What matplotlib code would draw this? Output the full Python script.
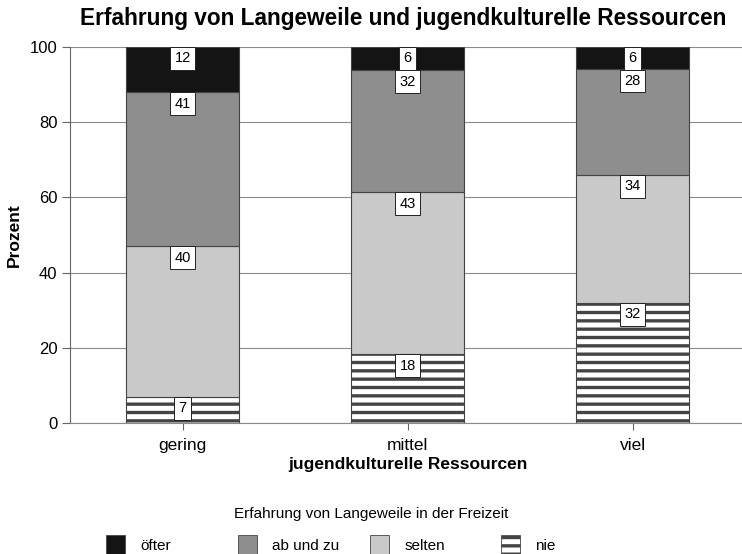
import numpy as np
import matplotlib
matplotlib.use("Agg")
import matplotlib.pyplot as plt
import matplotlib.patches as patch

plt.rcParams['font.family'] = ['Liberation Sans', 'DejaVu Sans']
plt.rcParams['hatch.linewidth'] = 2.4
plt.rcParams['hatch.color'] = '#0a0a0a'

# data
gruppen = ["gering", "mittel", "viel"]
kategorien = ["nie", "selten", "ab und zu", "öfter"]
nie = [7, 18.3, 32]
selten = [40, 43.1, 34]
ab_und_zu = [41, 32.4, 28]
oefter = [12, 6.2, 6]
werte = [nie, selten, ab_und_zu, oefter]

farben = ["white", "#c9c9c9", "#8e8e8e", "#141414"]
muster = ["--", None, None, None]

fig = plt.figure(figsize=(7.42, 5.54), dpi=100)
ax = fig.add_axes([0.0943, 0.2365, 0.91, 0.679])

x = np.arange(len(gruppen))
unten = np.zeros(len(gruppen))
for vals, farbe, h in zip(werte, farben, muster):
    vals = np.array(vals)
    ax.bar(x, vals, width=0.5, bottom=unten, color=farbe, edgecolor='#444444',
           linewidth=0.8, hatch=h, zorder=2)
    oben = unten + vals
    for xi, top, v in zip(x, oben, vals):
        ax.annotate("%d" % round(v), xy=(xi, top), xytext=(0, -3.3),
                    textcoords='offset points', ha='center', va='top', fontsize=10.5,
                    bbox=dict(boxstyle='square,pad=0.3', fc='white', ec='#222222', lw=0.7),
                    zorder=4)
    unten = oben

ax.set_ylim(0, 100)
ax.set_xlim(-0.5, 2.5)
ax.set_yticks([0, 20, 40, 60, 80, 100])
ax.yaxis.grid(True, color='#8a8a8a', linewidth=0.8, zorder=0)
ax.set_axisbelow(True)
ax.set_xticks(x)
ax.set_xticklabels(gruppen, fontsize=12.5)
ax.tick_params(axis='y', labelsize=12, length=6, color='#666666', pad=3)
ax.tick_params(axis='x', length=5, color='#666666', pad=6)
for s in ['top', 'right']:
    ax.spines[s].set_visible(False)
ax.spines['left'].set_color('#666666')
ax.spines['bottom'].set_color('#8a8a8a')
ax.spines['bottom'].set_linewidth(0.8)

ax.set_ylabel("Prozent", fontsize=12.5, fontweight='bold', labelpad=6)
ax.set_xlabel("jugendkulturelle Ressourcen", fontsize=12.5, fontweight='bold', labelpad=3)
fig.text(0.543, 0.967, "Erfahrung von Langeweile und jugendkulturelle Ressourcen",
         ha='center', va='center', fontsize=16.3, fontweight='bold')

# legend
fig.text(0.5, 1 - 514 / 554, "Erfahrung von Langeweile in der Freizeit",
         ha='center', va='center', fontsize=11)
leg_x = [92, 224, 356, 487]
for name, xp in zip(["öfter", "ab und zu", "selten", "nie"], leg_x):
    i = kategorien.index(name)
    hdl = patch.Patch(facecolor=farben[i], edgecolor='#444444', linewidth=0.6, hatch=muster[i])
    fig.legend(handles=[hdl], labels=[name], loc='center left',
               bbox_to_anchor=(xp / 742, 1 - 545 / 554), frameon=False, fontsize=11,
               handlelength=1.25, handleheight=1.7, handletextpad=1.0)

plt.savefig("out.png", dpi=100)
